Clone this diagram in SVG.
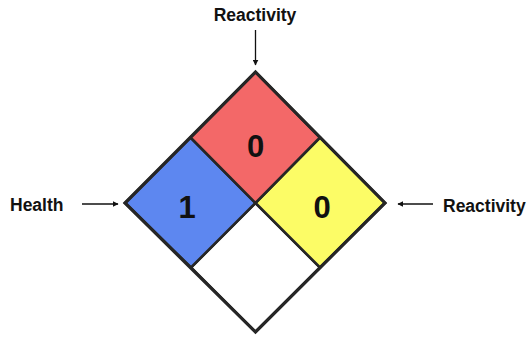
<svg xmlns="http://www.w3.org/2000/svg" width="529" height="339" viewBox="0 0 529 339">
<style>
.q{stroke:#262626;stroke-width:2.6;stroke-linejoin:miter}
.num{font-family:"Liberation Sans",Arial,sans-serif;font-weight:bold;font-size:31px;fill:#111;text-anchor:middle}
.lbl{font-family:"Liberation Sans",Arial,sans-serif;font-weight:bold;font-size:17.5px;fill:#111}
.arr{stroke:#111;stroke-width:1.3;fill:none;marker-end:url(#ah)}
</style>
<defs>
<marker id="ah" viewBox="0 0 10 10" refX="9" refY="5" markerWidth="6" markerHeight="6" markerUnits="userSpaceOnUse" orient="auto">
<path d="M0,0 L10,5 L0,10 z" fill="#111"/>
</marker>
</defs>
<rect width="529" height="339" fill="#fff"/>
<g id="white-bottom"><polygon class="q" fill="#ffffff" points="255.5,203 320,267.5 255.5,332 191,267.5"/></g>
<g id="blue-health"><polygon class="q" fill="#5D87F0" points="190.5,137.5 255.5,203 191,267.5 125,203"/><text class="num" x="187" y="218">1</text></g>
<g id="yellow-right"><polygon class="q" fill="#FCFC66" points="320,137.5 385,203 320,267.5 255.5,203"/><text class="num" x="322" y="218">0</text></g>
<g id="red-top"><polygon class="q" fill="#F36868" points="255.5,72 320,137.5 255.5,203 190.5,137.5"/><text class="num" x="255.5" y="157">0</text></g>
<g id="outline"><polygon fill="none" stroke="#262626" stroke-width="3.2" points="255.5,72 385,203 255.5,332 125,203"/></g>
<g id="label-top"><text class="lbl" x="255" y="21" text-anchor="middle">Reactivity</text></g>
<g id="label-left"><text class="lbl" x="10" y="211">Health</text></g>
<g id="label-right"><text class="lbl" x="443" y="212">Reactivity</text></g>
<g id="connectors">
<line class="arr" x1="255.5" y1="30" x2="255.5" y2="65"/>
<line class="arr" x1="82" y1="204" x2="118" y2="204"/>
<line class="arr" x1="433" y1="204" x2="398" y2="204"/>
</g>
</svg>
